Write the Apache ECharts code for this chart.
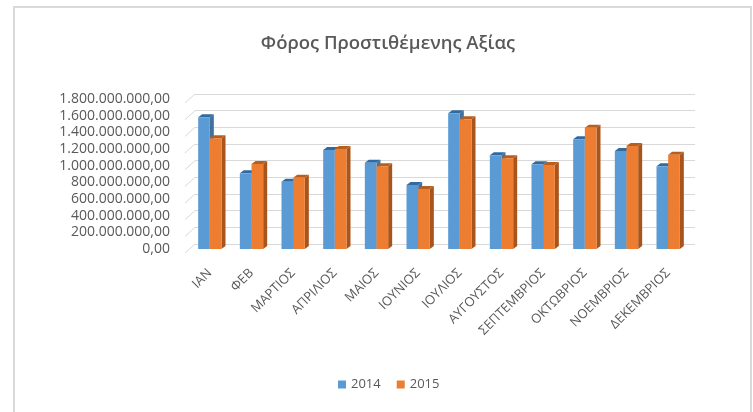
<!DOCTYPE html>
<html>
<head>
<meta charset="utf-8">
<script src="https://cdn.jsdelivr.net/npm/echarts@6/dist/echarts.min.js"></script>
<style>
  html, body { margin: 0; padding: 0; background: #fff; }
  #chart { width: 753px; height: 412px; }
</style>
</head>
<body>
<div id="chart"></div>
<script>
const months = ['ΙΑΝ', 'ΦΕΒ', 'ΜΑΡΤΙΟΣ', 'ΑΠΡΙΛΙΟΣ', 'ΜΑΙΟΣ', 'ΙΟΥΝΙΟΣ', 'ΙΟΥΛΙΟΣ',
  'ΑΥΓΟΥΣΤΟΣ', 'ΣΕΠΤΕΜΒΡΙΟΣ', 'ΟΚΤΩΒΡΙΟΣ', 'ΝΟΕΜΒΡΙΟΣ', 'ΔΕΚΕΜΒΡΙΟΣ'];
const vat2014 = [1580000000, 908000000, 808000000, 1188000000, 1036000000, 768000000,
  1628000000, 1124000000, 1016000000, 1316000000, 1176000000, 992000000];
const vat2015 = [1328000000, 1020000000, 856000000, 1200000000, 992000000, 720000000,
  1556000000, 1088000000, 1008000000, 1456000000, 1236000000, 1132000000];
const yTicks = [0, 200000000, 400000000, 600000000, 800000000, 1000000000,
  1200000000, 1400000000, 1600000000, 1800000000];

const grey = '#595959';
const font = '"Open Sans", "Noto Sans", sans-serif';

// colours: front face, side, top cap
const shades = [
  ['#5B9BD5', '#41719C', '#2F6AA0'],
  ['#ED7D31', '#A9541A', '#B85F1F']
];

function fmt(v) {
  return Math.round(v).toString().replace(/\B(?=(\d{3})+(?!\d))/g, '.') + ',00';
}

function renderBar(params, api) {
  const idx = api.value(0);
  const val = api.value(1);
  const base = api.coord([idx, 0]);
  const top = api.coord([idx, val]);
  const w = api.size([1, 0])[0] * 0.28;
  const d = 4, dy = 3;
  const x0 = params.seriesIndex === 0 ? base[0] - w : base[0];
  const c = shades[params.seriesIndex];
  return {
    type: 'group',
    children: [
      { type: 'polygon', shape: { points: [[x0 + w, top[1]], [x0 + w + d, top[1] - dy], [x0 + w + d, base[1] - dy], [x0 + w, base[1]]] },
        style: { fill: c[1] } },
      { type: 'polygon', shape: { points: [[x0, top[1]], [x0 + d, top[1] - dy], [x0 + w + d, top[1] - dy], [x0 + w, top[1]]] },
        style: { fill: c[2] } },
      { type: 'rect', shape: { x: x0, y: top[1], width: w, height: base[1] - top[1] },
        style: { fill: c[0] } }
    ]
  };
}

// side-wall stubs for the back gridlines
function renderWall(params, api) {
  const p = api.coord([0, api.value(0)]);
  const x = params.coordSys.x;
  return {
    type: 'line',
    shape: { x1: x, y1: p[1], x2: x - 10, y2: p[1] + 9 },
    style: { stroke: '#D9D9D9', lineWidth: 1 }
  };
}

const chart = echarts.init(document.getElementById('chart'));
chart.setOption({
  backgroundColor: '#fff',
  animation: false,
  title: {
    text: 'Φόρος Προστιθέμενης Αξίας',
    left: 383,
    top: 29,
    textAlign: 'center',
    textStyle: { fontFamily: font, fontSize: 18.5, fontWeight: 600, color: grey }
  },
  legend: {
    data: ['2014', '2015'],
    left: 333,
    top: 373,
    itemWidth: 8,
    itemHeight: 8,
    itemGap: 16,
    icon: 'rect',
    textStyle: { fontFamily: font, fontSize: 13, color: grey }
  },
  graphic: [{
    type: 'rect',
    shape: { x: 14, y: 7, width: 737, height: 420 },
    style: { fill: null, stroke: '#D9D9D9', lineWidth: 2 },
    silent: true
  }],
  grid: [
    { left: 189, right: 64, top: 99, height: 150 },
    { left: 195, right: 58, top: 94, height: 150 }
  ],
  xAxis: [
    {
      type: 'category', gridIndex: 0, data: months,
      axisLine: { show: false }, axisTick: { show: false },
      axisLabel: { rotate: 45, margin: 22, interval: 0, fontFamily: font, fontSize: 13, color: grey }
    },
    {
      type: 'category', gridIndex: 1, data: months,
      axisLine: { show: false }, axisTick: { show: false }, axisLabel: { show: false }
    }
  ],
  yAxis: [
    {
      type: 'value', gridIndex: 0, min: 0, max: 1800000000, interval: 200000000,
      splitLine: { show: false }, axisLine: { show: false }, axisTick: { show: false },
      axisLabel: { margin: 19, fontFamily: font, fontSize: 14, color: grey, formatter: fmt }
    },
    {
      type: 'value', gridIndex: 1, min: 0, max: 1800000000, interval: 200000000,
      splitLine: { lineStyle: { color: '#D9D9D9', width: 1 } },
      axisLine: { show: false }, axisTick: { show: false }, axisLabel: { show: false }
    }
  ],
  series: [
    {
      name: '2014', type: 'custom', xAxisIndex: 0, yAxisIndex: 0,
      itemStyle: { color: shades[0][0] }, renderItem: renderBar,
      data: vat2014.map((v, i) => [i, v]), z: 3
    },
    {
      name: '2015', type: 'custom', xAxisIndex: 0, yAxisIndex: 0,
      itemStyle: { color: shades[1][0] }, renderItem: renderBar,
      data: vat2015.map((v, i) => [i, v]), z: 3
    },
    {
      name: 'wall', type: 'custom', xAxisIndex: 1, yAxisIndex: 1,
      renderItem: renderWall, data: yTicks.map(v => [v]),
      encode: { y: 0 }, z: 1, silent: true
    }
  ]
});
</script>
</body>
</html>
